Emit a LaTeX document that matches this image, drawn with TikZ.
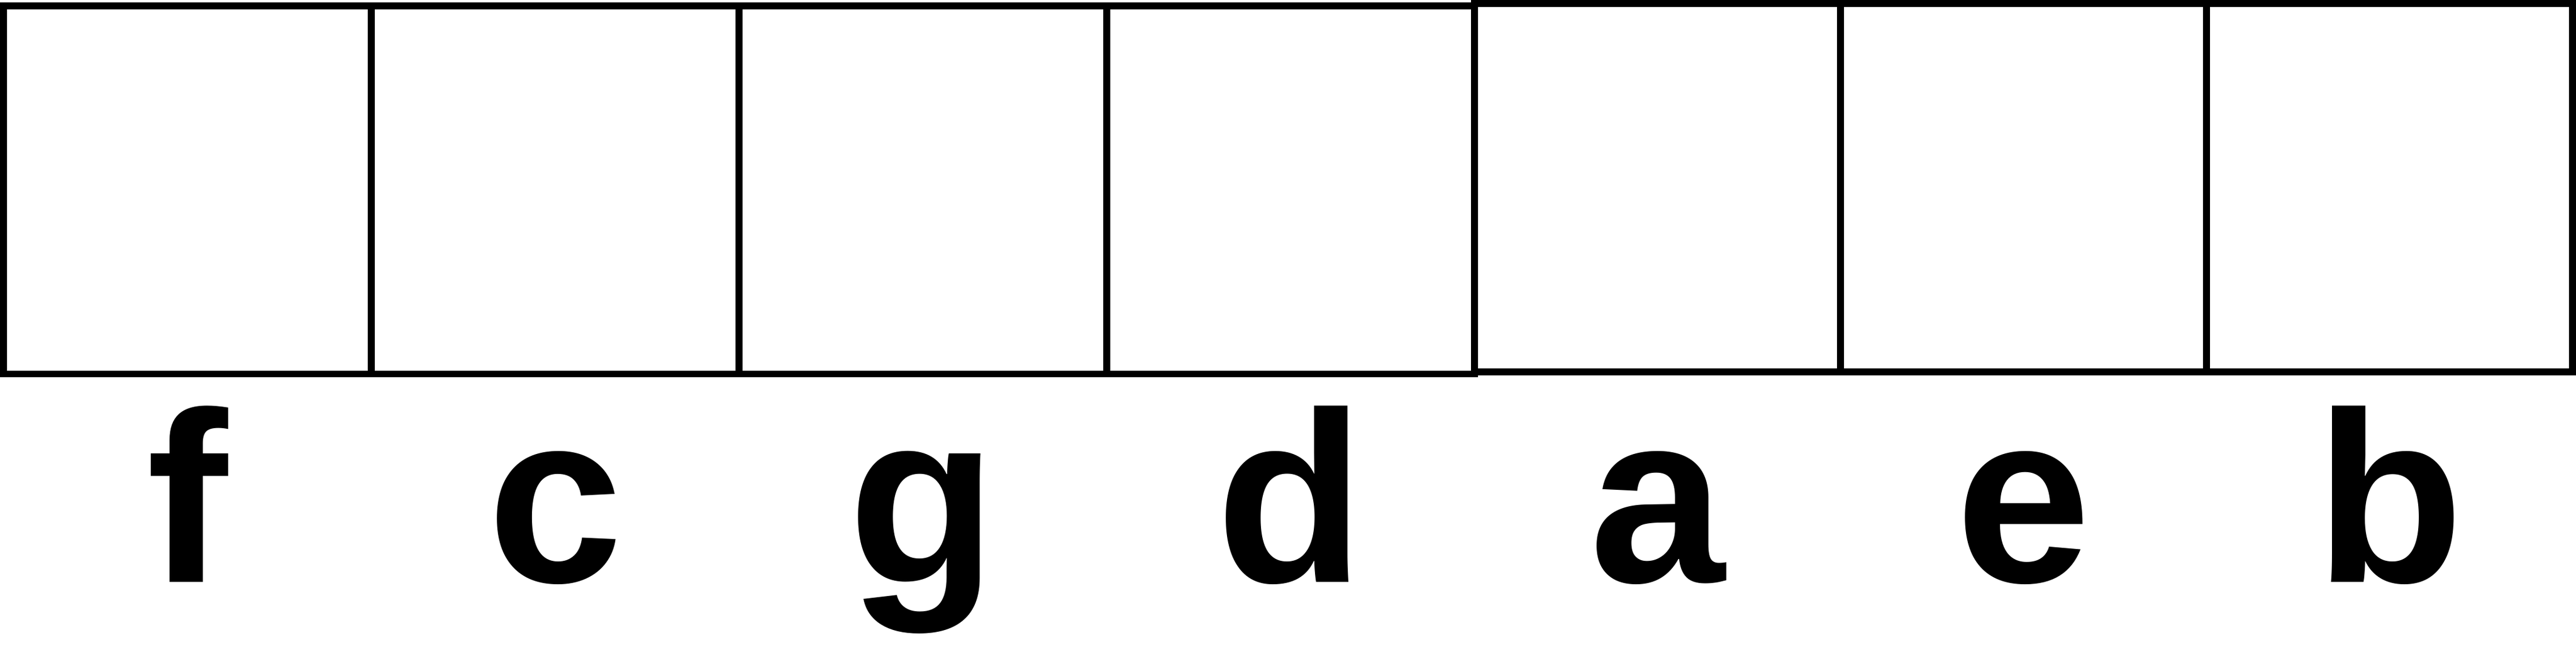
\documentclass[tikz,border=0pt]{standalone}
\usepackage{amsmath, tikz}
\usepackage{fontspec}
\setmainfont{Liberation Sans}

\tikzset{
	cell/.style={line width=3.4pt},
	letter/.style={anchor=base, inner sep=0pt, font=\fontsize{118}{120}\selectfont\bfseries}
}

\begin{document}
\begin{tikzpicture}
		\useasboundingbox (0,0) rectangle (43.92,-11.03);
		% cells of the left block
		\foreach \x in {0,...,3}
		{
			\draw[cell] (0.06+\x*6.27,-0.10) rectangle ++(6.27,-6.275);
			\coordinate (m\x) at (3.195+\x*6.27,-9.92);
		}
		% cells of the right block
		\foreach \x in {4,5,6}
		{
			\draw[cell] (25.14+\x*6.24-24.96,-0.06) rectangle ++(6.24,-6.28);
			\coordinate (m\x) at (28.26+\x*6.24-24.96,-9.92);
		}
		% letters below the cells
		\node[letter] (lf) at (m0) {f};
		\node[letter] (lc) at (m1) {c};
		\node[letter] (lg) at (m2) {g};
		\node[letter] (ld) at (m3) {d};
		\node[letter] (la) at (m4) {a};
		\node[letter] (le) at (m5) {e};
		\node[letter] (lb) at (m6) {b};
	\end{tikzpicture}
\end{document}
